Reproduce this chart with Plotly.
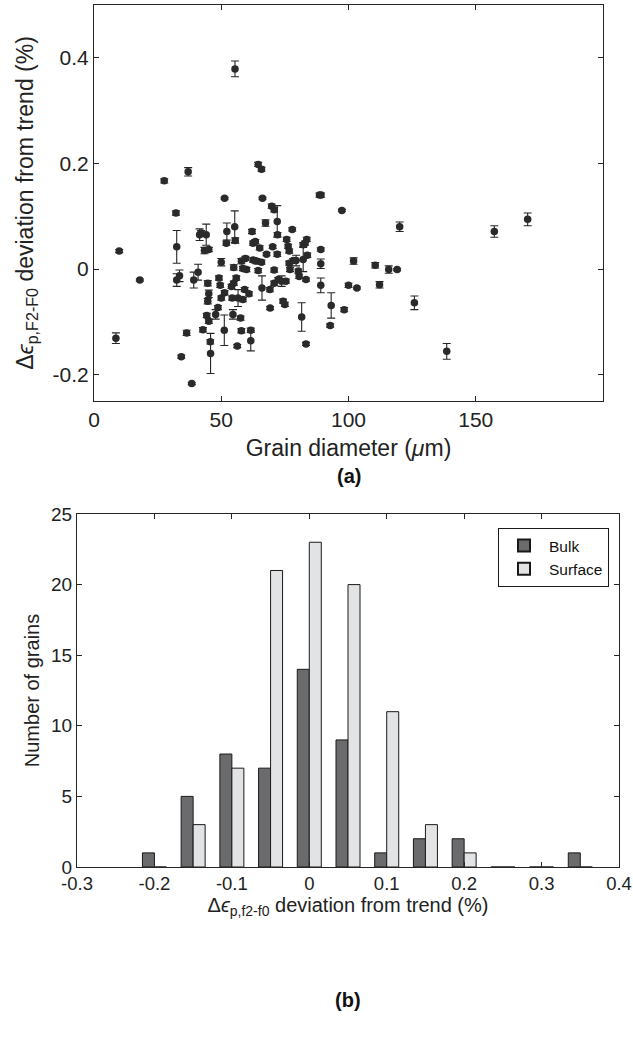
import plotly.graph_objects as go

# ---------------- (a) scatter data ----------------
diameter = [55.4, 27.6, 37.0, 64.5, 65.8, 51.3, 66.2, 88.6, 89.2,
            9.9, 18.0, 8.6, 32.2, 32.5, 32.5, 33.6, 34.3, 36.4, 38.4,
            39.2, 40.9, 41.5, 42.1, 44.1, 43.4, 45.1, 44.7, 45.1, 44.7,
            44.3, 45.1, 42.8, 45.7, 45.8, 47.8, 48.7, 49.1, 50.0, 49.6,
            50.0, 51.3, 51.2, 52.0, 52.2, 54.0, 54.3, 54.6, 54.9, 54.9,
            55.3, 55.5, 55.9, 56.6, 56.3, 57.6, 57.9, 57.9, 58.5, 58.5,
            59.2, 59.9, 59.5, 60.9, 61.6, 61.6, 62.1, 62.5, 62.5, 63.4,
            63.8, 64.5, 65.1, 65.8, 66.0, 67.4, 67.8, 69.1, 69.2, 70.2,
            69.8, 70.8, 70.8, 70.8, 72.0, 72.1, 72.0, 72.4, 73.7, 74.3,
            75.0, 75.4, 75.7, 76.3, 76.7, 76.7, 77.0, 77.9, 78.3, 79.4,
            80.3, 80.6, 81.6, 82.2, 82.2, 82.9, 83.6, 83.8, 83.3, 83.3,
            89.1, 89.1, 89.1, 92.8, 93.2, 97.4, 98.3, 100.0, 102.0, 103.3,
            120.1, 110.5, 115.8, 119.1, 112.2, 125.9, 138.6, 157.3, 170.4]
deviation = [0.379, 0.167, 0.184, 0.198, 0.189, 0.134, 0.134, 0.140, 0.140,
             0.034, -0.021, -0.131, 0.106, 0.042, -0.021, -0.013, -0.166, -0.121, -0.217,
             -0.021, -0.006, 0.065, 0.068, 0.065, 0.035, 0.037, -0.027, -0.047, -0.061,
             -0.088, -0.099, -0.115, -0.138, -0.160, -0.086, -0.073, -0.017, 0.013, -0.031,
             -0.055, -0.045, -0.116, 0.049, 0.071, -0.033, -0.055, -0.086, -0.027, 0.003,
             0.080, 0.054, -0.017, -0.055, -0.146, -0.093, -0.117, 0.015, 0.001, -0.058,
             -0.039, -0.001, 0.020, -0.047, -0.116, -0.136, 0.071, 0.049, 0.017, 0.052,
             0.015, -0.003, 0.040, 0.013, -0.036, 0.087, 0.028, -0.039, -0.074, 0.042,
             0.119, 0.112, -0.002, -0.027, 0.090, 0.065, 0.028, -0.020, -0.023, -0.061,
             -0.067, -0.023, 0.056, 0.043, 0.034, 0.011, -0.001, 0.075, 0.016, 0.016,
             -0.004, -0.014, -0.091, 0.018, 0.046, 0.049, 0.056, 0.026, -0.020, -0.142,
             0.037, 0.010, -0.031, -0.107, -0.069, 0.111, -0.077, -0.031, 0.015, -0.036,
             0.080, 0.007, -0.001, -0.001, -0.030, -0.064, -0.156, 0.071, 0.094]
dev_error = [0.015, 0.004, 0.008, 0.004, 0.004, 0.002, 0.002, 0.004, 0.004,
             0.003, 0.002, 0.010, 0.004, 0.031, 0.012, 0.011, 0.003, 0.005, 0.002,
             0.015, 0.015, 0.011, 0.005, 0.020, 0.006, 0.004, 0.005, 0.007, 0.005,
             0.004, 0.004, 0.004, 0.004, 0.038, 0.009, 0.004, 0.004, 0.007, 0.004,
             0.004, 0.004, 0.029, 0.004, 0.016, 0.004, 0.004, 0.009, 0.004, 0.005,
             0.030, 0.005, 0.004, 0.016, 0.003, 0.004, 0.004, 0.005, 0.004, 0.004,
             0.004, 0.004, 0.004, 0.004, 0.004, 0.019, 0.004, 0.004, 0.004, 0.004,
             0.005, 0.004, 0.004, 0.004, 0.023, 0.006, 0.003, 0.004, 0.003, 0.003,
             0.004, 0.004, 0.004, 0.004, 0.030, 0.004, 0.004, 0.004, 0.010, 0.004,
             0.004, 0.004, 0.004, 0.004, 0.004, 0.004, 0.004, 0.003, 0.004, 0.010,
             0.004, 0.004, 0.027, 0.023, 0.004, 0.004, 0.004, 0.004, 0.003, 0.003,
             0.003, 0.009, 0.014, 0.003, 0.024, 0.002, 0.004, 0.004, 0.006, 0.002,
             0.009, 0.005, 0.007, 0.002, 0.006, 0.013, 0.015, 0.011, 0.012]

a_xticks = [0, 50, 100, 150]
a_xticklabels = ["0", "50", "100", "150"]
a_yticks = [-0.2, 0, 0.2, 0.4]
a_yticklabels = ["-0.2", "0", "0.2", "0.4"]

# ---------------- (b) histogram data ----------------
bin_centers = [-0.2, -0.15, -0.1, -0.05, 0, 0.05, 0.1, 0.15, 0.2, 0.25, 0.3, 0.35]
bulk_counts = [1, 5, 8, 7, 14, 9, 1, 2, 2, 0, 0, 1]
surface_counts = [0, 3, 7, 21, 23, 20, 11, 3, 1, 0, 0, 0]

b_xticks = [-0.3, -0.2, -0.1, 0, 0.1, 0.2, 0.3, 0.4]
b_xticklabels = ["-0.3", "-0.2", "-0.1", "0", "0.1", "0.2", "0.3", "0.4"]
b_yticks = [0, 5, 10, 15, 20, 25]
b_yticklabels = ["0", "5", "10", "15", "20", "25"]

W, H = 633, 1052
FONT = "Liberation Sans, Arial, Helvetica, sans-serif"
AX = "#262626"

fig = go.Figure()

fig.add_trace(go.Scatter(
    x=diameter, y=deviation, mode="markers",
    marker=dict(size=7.5, color="#2a2a2a", line=dict(width=0)),
    error_y=dict(type="data", array=dev_error, visible=True,
                 color=AX, thickness=1.1, width=4),
    xaxis="x", yaxis="y", showlegend=False,
))

fig.add_trace(go.Bar(
    x=bin_centers, y=bulk_counts, name="Bulk",
    marker=dict(color="#6b6b6d", line=dict(color="#1a1a1a", width=1)),
    xaxis="x2", yaxis="y2",
))
fig.add_trace(go.Bar(
    x=bin_centers, y=surface_counts, name="Surface",
    marker=dict(color="#e2e3e5", line=dict(color="#1a1a1a", width=1)),
    xaxis="x2", yaxis="y2",
))

def ax_common(size):
    return dict(showline=True, mirror="ticks", linecolor=AX, linewidth=1,
                ticks="inside", ticklen=5, tickcolor=AX, tickwidth=1,
                showgrid=False, zeroline=False, automargin=False,
                ticklabeloverflow="allow",
                tickfont=dict(family=FONT, size=size, color="#222"))

fig.update_layout(
    width=W, height=H,
    margin=dict(l=0, r=0, t=0, b=0),
    paper_bgcolor="white", plot_bgcolor="white",
    font=dict(family=FONT, color="#222"),
    barmode="group", bargap=0.38, bargroupgap=0,
    xaxis=dict(domain=[94 / W, 603 / W], range=[0, 200], anchor="y",
               tickmode="array", tickvals=a_xticks, ticktext=a_xticklabels,
               title=dict(text="Grain diameter (<i>μ</i>m)", font=dict(size=23), standoff=9),
               **ax_common(21)),
    yaxis=dict(domain=[1 - 401 / H, 1 - 5 / H], range=[-0.25, 0.5], anchor="x",
               tickmode="array", tickvals=a_yticks, ticktext=a_yticklabels,
               title=dict(text="Δ<i>ϵ</i><sub>p,F2-F0</sub> deviation from trend (%)",
                          font=dict(size=23), standoff=12),
               **ax_common(21)),
    xaxis2=dict(domain=[77 / W, 619 / W], range=[-0.3, 0.4], anchor="y2",
                tickmode="array", tickvals=b_xticks, ticktext=b_xticklabels,
                title=dict(text="Δ<i>ϵ</i><sub>p,f2-f0</sub> deviation from trend (%)",
                           font=dict(size=20), standoff=1),
                **ax_common(18.5)),
    yaxis2=dict(domain=[1 - 867 / H, 1 - 514 / H], range=[0, 25], anchor="x2",
                tickmode="array", tickvals=b_yticks, ticktext=b_yticklabels,
                title=dict(text="Number of grains", font=dict(size=20), standoff=6),
                **ax_common(19)),
    legend=dict(x=609 / W, y=1 - 528 / H, xanchor="right", yanchor="top",
                bgcolor="white", bordercolor="#1a1a1a", borderwidth=1,
                font=dict(family=FONT, size=15.5, color="#111"),
                tracegroupgap=0, itemsizing="constant", itemwidth=40),
    annotations=[
        dict(text="<b>(a)</b>", x=0.5 * (94 + 603) / W, y=1 - 476 / H, xref="paper", yref="paper",
             xanchor="center", yanchor="middle",
             showarrow=False, font=dict(family=FONT, size=20, color="#111")),
        dict(text="<b>(b)</b>", x=0.5 * (77 + 619) / W, y=1 - 1000 / H, xref="paper", yref="paper",
             xanchor="center", yanchor="middle",
             showarrow=False, font=dict(family=FONT, size=20, color="#111")),
    ],
)

fig.write_html("out.html",
               config={"displayModeBar": False},
               post_script="document.body.style.margin='0';document.body.style.overflow='hidden';")
